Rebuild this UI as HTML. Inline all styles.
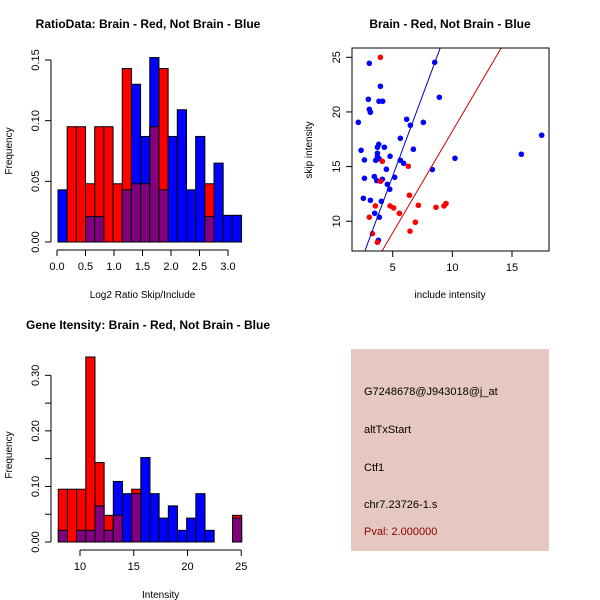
<!DOCTYPE html>
<html><head><meta charset="utf-8"><style>
body{margin:0;background:#fff}
svg{display:block;font-family:"Liberation Sans",sans-serif}
</style></head><body>
<svg id="c" width="600" height="600" viewBox="0 0 600 600"></svg>
<script>
// Panel 1: ratio histogram
const ratioBinStart = 0.0175;
const ratioBinWidth = 0.161;
const ratioRed = [0,0.095,0.095,0.048,0.095,0.095,0.048,0.143,0.048,0.048,0.095,0.143,0,0,0,0,0.048,0,0,0];
const ratioBlue = [0.043,0,0,0.021,0.021,0,0,0.043,0.130,0.087,0.152,0.043,0.087,0.109,0.043,0.087,0.021,0.065,0.022,0.022];
const ratioXTicks = [0,0.5,1,1.5,2,2.5,3];
const ratioXLabels = ["0.0","0.5","1.0","1.5","2.0","2.5","3.0"];
const ratioYTicks = [0,0.05,0.1,0.15];
const ratioYLabels = ["0.00","0.05","0.10","0.15"];
// Panel 2: scatter
const blueX = [3.04,8.52,3.97,3.85,4.16,2.96,3.04,3.13,2.12,8.91,6.17,7.57,6.48,5.64,17.49,3.83,2.35,3.72,4.30,6.73,3.72,3.72,4.78,15.78,10.22,2.63,3.58,3.85,5.64,5.92,4.47,8.32,2.63,3.46,3.66,4.13,5.17,4.55,4.75,2.54,3.13,4.05,3.49,3.88,3.80];
const blueY = [24.45,24.54,22.35,20.98,20.98,21.16,20.24,19.97,19.05,21.34,19.33,19.05,18.78,17.59,17.87,17.04,16.49,16.77,16.77,16.59,16.22,15.91,15.94,16.13,15.76,15.61,15.58,15.73,15.58,15.30,14.76,14.73,13.93,14.09,13.72,13.84,14.02,13.38,12.93,12.10,11.92,11.83,10.73,10.37,8.26];
const redX = [3.97,4.13,6.31,6.40,3.55,4.78,5.08,5.56,7.15,8.63,9.30,9.47,3.04,6.90,6.45,3.30,3.72,3.97];
const redY = [25.0,15.49,15.03,12.38,11.40,11.40,11.22,10.73,11.46,11.28,11.40,11.62,10.37,9.91,9.09,8.87,8.08,13.66];
const fitSlope = [2.94,1.86];
const fitIntercept = [-0.56,-0.36];
const scXTicks = [5,10,15];
const scYTicks = [10,15,20,25];
// Panel 3: intensity histogram
const intBinStart = 7.98;
const intBinWidth = 0.853;
const intRed = [0.095,0.095,0.095,0.333,0.143,0.048,0.048,0,0.095,0,0,0,0,0,0,0,0,0,0,0.048];
const intBlue = [0.021,0,0.021,0.021,0.065,0.021,0.109,0.087,0.087,0.152,0.087,0.043,0.065,0.021,0.043,0.087,0.021,0,0,0.043];
const intXTicks = [10,15,20,25];
const intYTicks = [0,0.05,0.1,0.15,0.2,0.25,0.3];
const intYLabels = ["0.00","","0.10","","0.20","","0.30"];

const svg = document.getElementById('c');
const NS = 'http://www.w3.org/2000/svg';
function mk(tag, attrs, parent, text){
  const e = document.createElementNS(NS, tag);
  for (const k in attrs) e.setAttribute(k, attrs[k]);
  if (text !== undefined) e.textContent = text;
  (parent || svg).appendChild(e);
  return e;
}
function group(name){
  const g = mk('g', {});
  
  
  return g;
}
function hist(name, title, titleX, red, blue, start, w, sx, sy, xT, xL, yT, yL, x0px, ybase, axisY, xlab, ylabX, ylabY) {
  const g = group(name);
  const t = mk('text', {x: titleX, y: 28, 'text-anchor': 'middle', 'font-size': 12, 'font-weight': 'bold'}, g, title);
  
  
  for (let i = 0; i < red.length; i++) {
    const xa = sx(start + i * w), xb = sx(start + (i + 1) * w);
    const r = red[i], b = blue[i];
    const hi = Math.max(r, b), lo = Math.min(r, b);
    if (hi > 0) {
      const bar = mk('rect', {x: xa, y: sy(hi), width: xb - xa, height: sy(0) - sy(hi), fill: r >= b ? '#ff0000' : '#0000ff', stroke: '#000', 'stroke-width': 1}, g);
      
      
    }
    if (lo > 0) {
      const ov = mk('rect', {x: xa, y: sy(lo), width: xb - xa, height: sy(0) - sy(lo), fill: '#800080', stroke: '#000', 'stroke-width': 1}, g);
      
      
    }
  }
  // x axis
  mk('line', {x1: sx(xT[0]), x2: sx(xT[xT.length - 1]), y1: axisY, y2: axisY, stroke: '#000'}, g);
  xT.forEach((v, i) => {
    mk('line', {x1: sx(v), x2: sx(v), y1: axisY, y2: axisY + 6, stroke: '#000'}, g);
    const l = mk('text', {x: sx(v), y: axisY + 20, 'text-anchor': 'middle', 'font-size': 11}, g, xL[i]);
    
    
  });
  // y axis
  mk('line', {x1: x0px, x2: x0px, y1: sy(yT[0]), y2: sy(yT[yT.length - 1]), stroke: '#000'}, g);
  yT.forEach((v, i) => {
    mk('line', {x1: x0px - 6, x2: x0px, y1: sy(v), y2: sy(v), stroke: '#000'}, g);
    if (yL[i]) {
      const l = mk('text', {x: 0, y: 0, 'text-anchor': 'middle', 'font-size': 11, transform: `translate(${x0px - 12},${sy(v)}) rotate(-90)`}, g, yL[i]);
      
      
    }
  });
  const xl = mk('text', {x: (sx(xT[0]) + sx(xT[xT.length - 1])) / 2 + 0, y: axisY + 48, 'text-anchor': 'middle', 'font-size': 10}, g, xlab);
  
  
  const yl = mk('text', {x: 0, y: 0, 'text-anchor': 'middle', 'font-size': 10, transform: `translate(${ylabX},${ylabY}) rotate(-90)`}, g, 'Frequency');
  
  
}
// panel 1
hist('ratio-histogram', 'RatioData: Brain - Red, Not Brain - Blue', 148,
  ratioRed, ratioBlue, ratioBinStart, ratioBinWidth,
  v => 57 + v * 57, v => 242 - v * (182 / 0.15),
  ratioXTicks, ratioXLabels, ratioYTicks, ratioYLabels, 51, 242, 250, 'Log2 Ratio Skip/Include', 12, 151);
// panel 3
hist('intensity-histogram', 'Gene Itensity: Brain - Red, Not Brain - Blue', 148,
  intRed, intBlue, intBinStart, intBinWidth,
  v => 80 + (v - 10) * 10.75, v => 542 - v * 555.6,
  intXTicks, intXTicks.map(String), intYTicks, intYLabels, 51, 542, 550, 'Intensity', 12, 455);
// fix panel-3 title y
svg.lastChild.querySelector('text').setAttribute('y', 329);

// panel 2 scatter
(function(){
  const g = group('scatter-plot');
  const L = 352, R = 549, T = 48, B = 251;
  const sx = v => 392.7 + (v - 5) * 11.93;
  const sy = v => 57.3 + (25 - v) * 10.93;
  const t = mk('text', {x: 450, y: 28, 'text-anchor': 'middle', 'font-size': 12, 'font-weight': 'bold'}, g, 'Brain - Red, Not Brain - Blue');
  
  
  const clip = mk('clipPath', {id: 'scClip'}, g);
  mk('rect', {x: L, y: T, width: R - L, height: B - T}, clip);
  const inner = mk('g', {'clip-path': 'url(#scClip)'}, g);
  blueX.forEach((x, i) => {
    const p = mk('circle', {cx: sx(x), cy: sy(blueY[i]), r: 2.8, fill: '#0000ff'}, inner);
    
    
  });
  redX.forEach((x, i) => {
    const p = mk('circle', {cx: sx(x), cy: sy(redY[i]), r: 2.8, fill: '#ff0000'}, inner);
    
    
  });
  const cols = ['#0000cc', '#cc0000'];
  fitSlope.forEach((m, i) => {
    const x1 = 0, x2 = 20;
    const ln = mk('line', {x1: sx(x1), y1: sy(fitIntercept[i] + m * x1), x2: sx(x2), y2: sy(fitIntercept[i] + m * x2), stroke: cols[i], 'stroke-width': 1}, inner);
    
    
  });
  mk('rect', {x: L, y: T, width: R - L, height: B - T, fill: 'none', stroke: '#000'}, g);
  scXTicks.forEach(v => {
    mk('line', {x1: sx(v), x2: sx(v), y1: B, y2: B + 6, stroke: '#000'}, g);
    const l = mk('text', {x: sx(v), y: B + 20, 'text-anchor': 'middle', 'font-size': 11}, g, String(v));
    
    
  });
  scYTicks.forEach(v => {
    mk('line', {x1: L - 6, x2: L, y1: sy(v), y2: sy(v), stroke: '#000'}, g);
    const l = mk('text', {x: 0, y: 0, 'text-anchor': 'middle', 'font-size': 11, transform: `translate(${L - 12},${sy(v)}) rotate(-90)`}, g, String(v));
    
    
  });
  const xl = mk('text', {x: 450, y: 298, 'text-anchor': 'middle', 'font-size': 10}, g, 'include intensity');
  
  
  const yl = mk('text', {x: 0, y: 0, 'text-anchor': 'middle', 'font-size': 10, transform: 'translate(312,150) rotate(-90)'}, g, 'skip intensity');
  
  
})();

// info box
(function(){
  const g = group('info-box');
  mk('rect', {x: 351, y: 349, width: 198, height: 202, fill: '#e6c8c0'}, g);
  const lines = [['G7248678@J943018@j_at', 395, '#000'], ['altTxStart', 433, '#000'], ['Ctf1', 471, '#000'], ['chr7.23726-1.s', 508, '#000'], ['Pval: 2.000000', 535, '#8b0000']];
  lines.forEach(([s, y, c]) => {
    const t = mk('text', {x: 364, y: y, 'font-size': 11, fill: c}, g, s);
    
    
  });
})();
</script>
</body></html>
